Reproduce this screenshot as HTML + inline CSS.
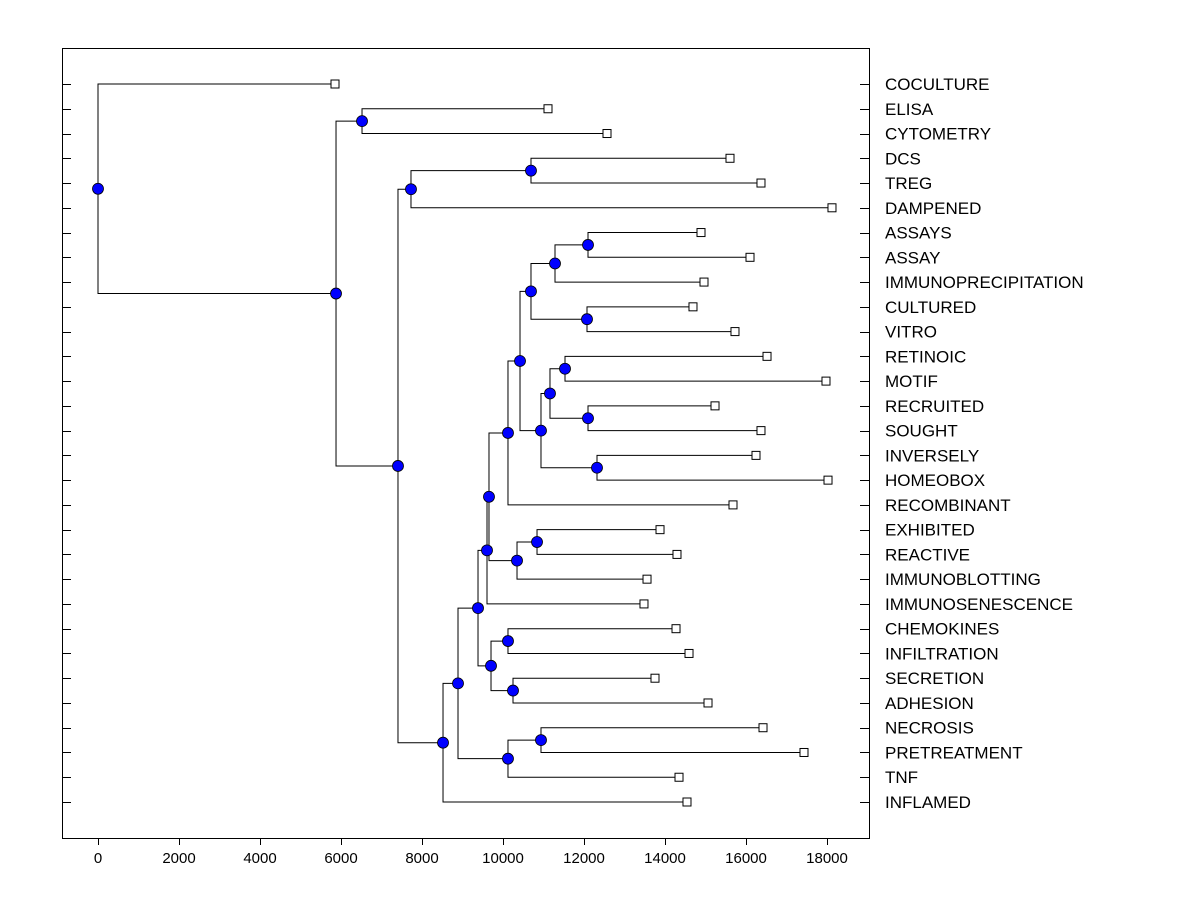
<!DOCTYPE html>
<html><head><meta charset="utf-8"><style>
body{margin:0;background:#fff;width:1200px;height:900px;overflow:hidden}
text{font-family:"Liberation Sans",sans-serif}
</style></head><body>
<svg id="c" width="1200" height="900">
<rect x="62.5" y="48.5" width="807" height="790" fill="#fff" stroke="#000"/>
</svg>
<script>
const leafNames = ["COCULTURE","ELISA","CYTOMETRY","DCS","TREG","DAMPENED","ASSAYS","ASSAY","IMMUNOPRECIPITATION","CULTURED","VITRO","RETINOIC","MOTIF","RECRUITED","SOUGHT","INVERSELY","HOMEOBOX","RECOMBINANT","EXHIBITED","REACTIVE","IMMUNOBLOTTING","IMMUNOSENESCENCE","CHEMOKINES","INFILTRATION","SECRETION","ADHESION","NECROSIS","PRETREATMENT","TNF","INFLAMED"];
const leafValues = [5852,11111,12568,15605,16370,18123,14889,16099,14963,14691,15728,16519,17975,15235,16370,16247,18025,15679,13877,14296,13556,13481,14272,14593,13753,15062,16420,17432,14346,14543];
// internal nodes: [name, height, childA, childB] (children: leaf index number or node name)
const mergeNodes = [
 ["B",6519,1,2],["F",10691,3,4],["D",7728,"F",5],
 ["X",12099,6,7],["V",11284,"X",8],["W",12074,9,10],["T",10691,"V","W"],
 ["AA",11531,11,12],["AB",12099,13,14],["Y",11160,"AA","AB"],["Z",12321,15,16],["U",10938,"Y","Z"],
 ["S",10420,"T","U"],["P",10123,"S",17],
 ["R",10840,18,19],["Q",10346,"R",20],["O",9654,"P","Q"],["K",9605,"O",21],
 ["M",10123,22,23],["N",10247,24,25],["L",9704,"M","N"],["H",9383,"K","L"],
 ["J",10938,26,27],["I",10123,"J",28],["G",8889,"H","I"],["E",8519,"G",29],
 ["C",7407,"D","E"],["A",5877,"B","C"],["ROOT",0,0,"A"]
];
const xTicks = [0,2000,4000,6000,8000,10000,12000,14000,16000,18000];

const svg = document.getElementById('c');
const NS = "http://www.w3.org/2000/svg";
const xs = v => 98 + v * (729/18000);
const ys = i => 84 + i * (718/29);
function mk(tag, attrs){const e=document.createElementNS(NS,tag);for(const k in attrs)e.setAttribute(k,attrs[k]);svg.appendChild(e);return e;}

xTicks.forEach(t=>{
  const x = Math.round(xs(t))+0.5;
  const l = mk('line',{x1:x,x2:x,y1:838,y2:845,stroke:'#000'});
  
  
  const tx = mk('text',{x:xs(t),y:863,'text-anchor':'middle','font-size':'15'});
  tx.textContent = t;
  
  
});
leafNames.forEach((n,i)=>{
  const y = Math.round(ys(i))+0.5;
  const a = mk('line',{x1:62,x2:71,y1:y,y2:y,stroke:'#000'});
  
  
  const b = mk('line',{x1:860,x2:869,y1:y,y2:y,stroke:'#000'});
  
  
  const tx = mk('text',{x:885,y:ys(i)+6,'font-size':'17'});
  tx.textContent = n;
  
  
});

const nodes = {};
mergeNodes.forEach(m=>nodes[m[0]]=m);
function pos(c){
  if(typeof c==='number') return {x:xs(leafValues[c]),y:ys(c)};
  const m=nodes[c]; const a=pos(m[2]), b=pos(m[3]);
  return {x:xs(m[1]),y:(a.y+b.y)/2};
}
mergeNodes.forEach(m=>{
  const p=pos(m[0]);
  [m[2],m[3]].forEach(c=>{
    const q=pos(c);
    const l = mk('polyline',{points:`${p.x},${p.y} ${p.x},${q.y} ${q.x},${q.y}`,fill:'none',stroke:'#000','stroke-width':1});
    
    
  });
});
leafValues.forEach((v,i)=>{
  const r = mk('rect',{x:xs(v)-4,y:ys(i)-4,width:8,height:8,fill:'#fff',stroke:'#000'});
  
  
});
mergeNodes.forEach(m=>{
  const p=pos(m[0]);
  const c = mk('circle',{cx:p.x,cy:p.y,r:5.5,fill:'#0000ff',stroke:'#000','stroke-width':0.8});
  
  
});
</script>
</body></html>
